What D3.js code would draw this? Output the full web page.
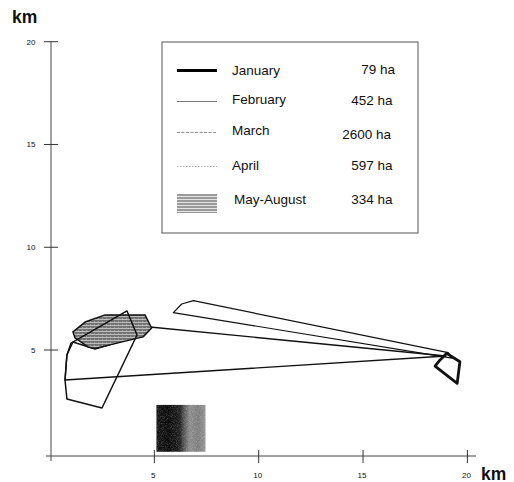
<!DOCTYPE html>
<html>
<head>
<meta charset="utf-8">
<script src="https://cdn.jsdelivr.net/npm/d3@7"></script>
<style>
  html, body { margin: 0; padding: 0; background: #fff; }
  svg { display: block; font-family: "Liberation Sans", Arial, Helvetica, sans-serif; }
</style>
</head>
<body>
<svg id="chart" width="514" height="482"></svg>
<script>
// ---- data (km) ----
const xTicks = [5, 10, 15, 20];
const yTicks = [5, 10, 15, 20];
const months = ["January", "February", "March", "April", "May-August"];
const areas = ["79 ha", "452 ha", "2600 ha", "597 ha", "334 ha"];

const january = [[19.01, 4.84], [19.64, 4.43], [19.51, 3.38], [18.45, 4.22], [18.69, 4.52]];
const february = [[5.91, 6.82], [6.31, 7.24], [6.87, 7.40], [19.08, 4.87], [19.26, 4.61]];
const march = [[0.72, 3.54], [18.97, 4.71], [4.79, 6.12], [4.17, 5.64], [2.16, 5.05], [1.10, 5.39], [0.81, 4.76]];
const april = [[3.69, 6.90], [4.17, 5.73], [2.49, 2.18], [0.81, 2.62], [0.72, 3.54], [0.81, 4.76], [1.01, 5.34]];
const mayAugust = [[1.10, 5.88], [1.68, 6.36], [2.64, 6.71], [4.55, 6.71], [4.87, 6.07], [4.46, 5.64], [2.16, 5.08], [1.82, 5.15], [1.20, 5.59]];
const rasterBlock = [[5.1, 0.05], [7.45, 2.33]];

// ---- setup ----
const svg = d3.select("#chart");
const x = d3.scaleLinear().domain([0, 20]).range([50, 467.4]);
const y = d3.scaleLinear().domain([0, 20]).range([452.8, 41.7]);
const axisY = 456;   // x-axis line position
const axisX = 51;    // y-axis line position

const defs = svg.append("defs");
const pat = defs.append("pattern").attr("id", "hatch").attr("patternUnits", "userSpaceOnUse")
  .attr("width", 4).attr("height", 3);
pat.append("rect").attr("width", 4).attr("height", 3).attr("fill", "#727272");
pat.append("rect").attr("y", 1).attr("width", 4).attr("height", 1).attr("fill", "#bdbdbd");
pat.append("rect").attr("x", 2).attr("y", 0).attr("width", 1).attr("height", 1).attr("fill", "#9a9a9a");

const pat2 = defs.append("pattern").attr("id", "hatch2").attr("patternUnits", "userSpaceOnUse")
  .attr("width", 4).attr("height", 3);
pat2.append("rect").attr("width", 4).attr("height", 3).attr("fill", "#9a9a9a");
pat2.append("rect").attr("y", 1).attr("width", 4).attr("height", 1).attr("fill", "#e4e4e4");

const grad = defs.append("linearGradient").attr("id", "rast");
[["0%", "#141414"], ["25%", "#080808"], ["48%", "#1e1e1e"], ["56%", "#555"], ["68%", "#8c8c8c"], ["85%", "#7c7c7c"], ["100%", "#949494"]]
  .forEach(([o, c]) => grad.append("stop").attr("offset", o).attr("stop-color", c));
const filt = defs.append("filter").attr("id", "grain").attr("color-interpolation-filters", "sRGB");
filt.append("feTurbulence").attr("type", "fractalNoise").attr("baseFrequency", 1.2).attr("numOctaves", 1).attr("result", "n");
filt.append("feColorMatrix").attr("in", "n").attr("type", "matrix")
  .attr("values", "0 0 0 0 1  0 0 0 0 1  0 0 0 0 1  0.6 0 0 0 -0.25").attr("result", "w");
filt.append("feComposite").attr("in", "w").attr("in2", "SourceGraphic").attr("operator", "in").attr("result", "wc");
filt.append("feMerge").selectAll("feMergeNode").data(["SourceGraphic", "wc"]).join("feMergeNode").attr("in", d => d);

// ---- axes ----
const g = svg.append("g");
g.append("line").attr("x1", axisX).attr("x2", axisX).attr("y1", y(20)).attr("y2", 461)
  .attr("stroke", "#666").attr("stroke-width", 1.2);
g.append("line").attr("x1", 46).attr("x2", 476).attr("y1", axisY).attr("y2", axisY)
  .attr("stroke", "#444").attr("stroke-width", 1);

g.selectAll(".yt").data(yTicks).join("line")
  .attr("x1", 44).attr("x2", 58).attr("y1", d => y(d)).attr("y2", d => y(d))
  .attr("stroke", "#333").attr("stroke-width", 1);
g.selectAll(".ytl").data(yTicks).join("text")
  .attr("x", 35.5).attr("y", d => y(d) + 3).attr("text-anchor", "end")
  .attr("font-size", 8).attr("fill", "#111").text(d => d);

g.selectAll(".xt").data(xTicks).join("line")
  .attr("x1", d => x(d)).attr("x2", d => x(d)).attr("y1", 450).attr("y2", 463)
  .attr("stroke", "#333").attr("stroke-width", 1);
g.selectAll(".xtl").data(xTicks).join("text")
  .attr("x", d => x(d) - 1).attr("y", 478).attr("text-anchor", "middle")
  .attr("font-size", 8).attr("fill", "#111").text(d => d);

svg.append("text").attr("x", 12).attr("y", 22.5).attr("font-size", 17.5).attr("font-weight", "bold")
  .attr("fill", "#111").text("km");
svg.append("text").attr("x", 481).attr("y", 479.5).attr("font-size", 17.5).attr("font-weight", "bold")
  .attr("fill", "#111").text("km");

// ---- raster block ----
svg.append("rect")
  .attr("x", x(rasterBlock[0][0])).attr("y", y(rasterBlock[1][1]))
  .attr("width", x(rasterBlock[1][0]) - x(rasterBlock[0][0]))
  .attr("height", y(rasterBlock[0][1]) - y(rasterBlock[1][1]))
  .attr("fill", "url(#rast)").attr("filter", "url(#grain)");

// ---- polygons ----
const line = d3.line().x(d => x(d[0])).y(d => y(d[1])).curve(d3.curveLinearClosed);
const polys = [
  { data: march, w: 1.4, fill: "none" },
  { data: february, w: 1.2, fill: "none" },
  { data: mayAugust, w: 1.5, fill: "url(#hatch)" },
  { data: april, w: 1.5, fill: "none" },
  { data: january, w: 2.8, fill: "none" }
];
svg.selectAll(".poly").data(polys).join("path")
  .attr("d", d => line(d.data)).attr("fill", d => d.fill)
  .attr("stroke", "#111").attr("stroke-width", d => d.w).attr("stroke-linejoin", "round");

// ---- legend ----
const lg = svg.append("g");
lg.append("rect").attr("x", 162).attr("y", 42).attr("width", 256).attr("height", 191)
  .attr("fill", "#fff").attr("stroke", "#555").attr("stroke-width", 1);
const rowY = [70.5, 101.5, 132.5, 166.5, 199];
const textY = [74.5, 103.5, 135, 170, 203.5];
const valY = [74, 105, 138.5, 170, 203.5];
const valX = [395, 392.5, 391, 392.5, 392.5];
const styles = [
  { w: 3, dash: null, c: "#000" },
  { w: 0.8, dash: null, c: "#555" },
  { w: 0.8, dash: "3,1.5", c: "#777" },
  { w: 0.8, dash: "1.5,1.5", c: "#999" }
];
styles.forEach((s, i) => {
  lg.append("line").attr("x1", 177).attr("x2", 217).attr("y1", rowY[i]).attr("y2", rowY[i])
    .attr("stroke", s.c).attr("stroke-width", s.w).attr("stroke-dasharray", s.dash);
});
lg.append("rect").attr("x", 177).attr("y", 194).attr("width", 40).attr("height", 19)
  .attr("fill", "url(#hatch2)");
lg.selectAll(".lt").data(months).join("text")
  .attr("x", (d, i) => i === 4 ? 234 : 232).attr("y", (d, i) => textY[i])
  .attr("font-size", 13.5).attr("fill", "#111").text(d => d);
lg.selectAll(".lv").data(areas).join("text")
  .attr("x", (d, i) => valX[i]).attr("y", (d, i) => valY[i]).attr("text-anchor", "end")
  .attr("font-size", 13.5).attr("fill", "#111").text(d => d);
</script>
</body>
</html>
